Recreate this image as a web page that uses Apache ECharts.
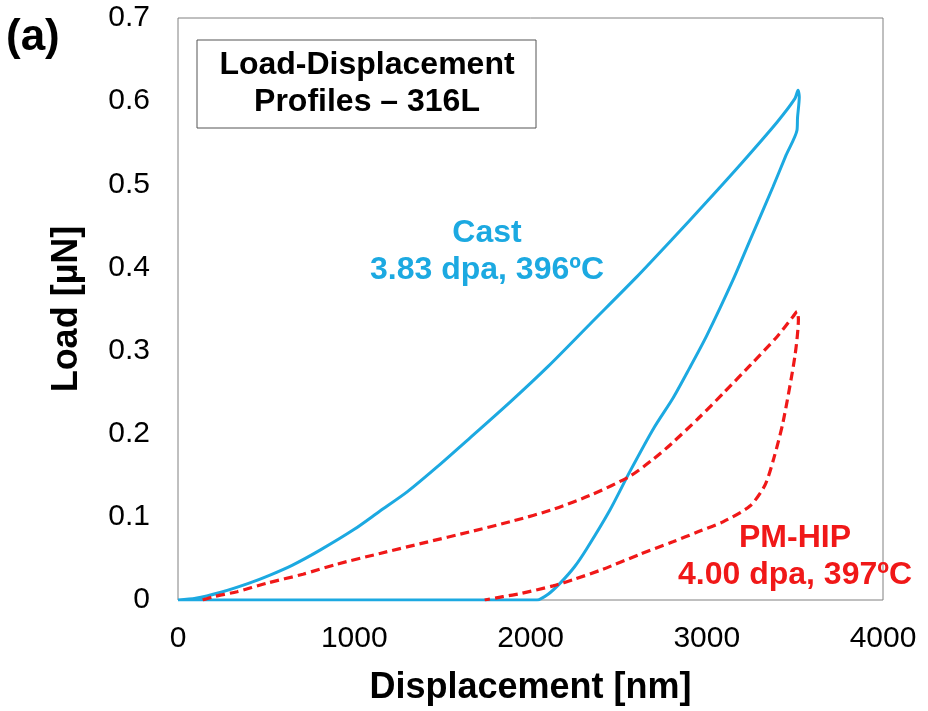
<!DOCTYPE html>
<html>
<head>
<meta charset="utf-8">
<title>Load-Displacement Profiles – 316L</title>
<script src="https://cdn.jsdelivr.net/npm/echarts@6/dist/echarts.min.js"></script>
<style>
  html, body { margin: 0; padding: 0; background: #fff; }
  #main { width: 928px; height: 711px; }
</style>
</head>
<body>
<div id="main"></div>
<script>
var dom = document.getElementById("main");
var myChart = echarts.init(dom);

// x ticks / y ticks
var xTicks = [0, 1000, 2000, 3000, 4000];
var yTicks = [0, 0.1, 0.2, 0.3, 0.4, 0.5, 0.6, 0.7];

// Cast, 3.83 dpa, 396ºC  [displacement nm, load µN] : loading then unloading
var castLoad = [
    [0, 0], [100, 0.002], [238, 0.009], [400, 0.02], [522, 0.03], [650, 0.042],
    [806, 0.06], [1000, 0.085], [1146, 0.107], [1300, 0.13], [1470, 0.16],
    [1657, 0.195], [1884, 0.238], [2100, 0.281], [2338, 0.332], [2600, 0.388],
    [2800, 0.433], [3000, 0.479], [3200, 0.526], [3400, 0.575], [3500, 0.603],
    [3518, 0.613]
];
var castUnload = [
    [3525, 0.605], [3515, 0.58], [3512, 0.565], [3450, 0.535], [3376, 0.497],
    [3250, 0.435], [3149, 0.385], [3000, 0.318], [2900, 0.278], [2809, 0.243],
    [2700, 0.207], [2565, 0.155], [2450, 0.108], [2320, 0.062], [2250, 0.04],
    [2167, 0.02], [2100, 0.007], [2037, 0], [1000, 0], [0, 0]
];

// PM-HIP, 4.00 dpa, 397ºC
var hipLoad = [
    [140, 0], [200, 0.004], [335, 0.01], [500, 0.02], [709, 0.031], [900, 0.043],
    [1146, 0.056], [1400, 0.069], [1657, 0.082], [1900, 0.095], [2128, 0.109],
    [2350, 0.127], [2565, 0.149], [2700, 0.17], [2800, 0.188], [2950, 0.218],
    [3100, 0.25], [3250, 0.283], [3400, 0.317], [3490, 0.341], [3512, 0.347]
];
var hipUnload = [
    [3520, 0.338], [3500, 0.293], [3433, 0.214], [3380, 0.17], [3330, 0.138],
    [3245, 0.113], [3092, 0.094], [2950, 0.082], [2808, 0.07], [2621, 0.055],
    [2411, 0.037], [2250, 0.025], [2128, 0.017], [1950, 0.008], [1844, 0.004],
    [1740, 0]
];

var blue = '#1CA9E1';
var red = '#F01818';
var font = 'Liberation Sans, Arial, sans-serif';

var option = {
    backgroundColor: '#fff',
    animation: false,
    grid: {
        left: 178, top: 18, right: 45, bottom: 110,
        show: true, borderColor: '#808080', borderWidth: 1
    },
    xAxis: {
        type: 'value',
        min: xTicks[0], max: xTicks[xTicks.length - 1], interval: 1000,
        name: 'Displacement [nm]',
        nameLocation: 'middle', nameGap: 70,
        nameTextStyle: { fontFamily: font, fontSize: 36, fontWeight: 'bold', color: '#000' },
        axisLine: { show: false },
        axisTick: { show: false },
        splitLine: { show: false },
        axisLabel: { fontFamily: font, fontSize: 30, color: '#000', margin: 24,
                     formatter: function (v) { return String(v); } }
    },
    yAxis: {
        type: 'value',
        min: yTicks[0], max: yTicks[yTicks.length - 1], interval: 0.1,
        name: 'Load [µN]',
        nameLocation: 'middle', nameGap: 93,
        nameTextStyle: { fontFamily: font, fontSize: 36, fontWeight: 'bold', color: '#000' },
        axisLine: { show: false },
        axisTick: { show: false },
        splitLine: { show: false },
        axisLabel: { fontFamily: font, fontSize: 30, color: '#000', margin: 28 }
    },
    series: [
        {
            name: 'Cast',
            type: 'line',
            data: castLoad.concat(castUnload),
            symbol: 'none',
            smooth: 0.25,
            lineStyle: { color: blue, width: 3 }
        },
        {
            name: 'PM-HIP',
            type: 'line',
            data: hipLoad.concat(hipUnload),
            symbol: 'none',
            smooth: 0.25,
            lineStyle: { color: red, width: 3.2, type: [9, 5] }
        }
    ],
    graphic: [
        { type: 'text', left: 6, top: 16,
          style: { text: '(a)', font: 'bold 44px ' + font, fill: '#000' } },
        { type: 'rect', shape: { x: 197, y: 40, width: 339, height: 88 },
          style: { fill: '#fff', stroke: '#555', lineWidth: 1 } },
        { type: 'text', x: 367, y: 84, z: 10,
          style: { text: 'Load-Displacement\nProfiles – 316L', font: 'bold 32px ' + font,
                   fill: '#000', align: 'center', verticalAlign: 'middle', lineHeight: 37 } },
        { type: 'text', x: 487, y: 252, z: 10,
          style: { text: 'Cast\n3.83 dpa, 396ºC', font: 'bold 32px ' + font,
                   fill: blue, align: 'center', verticalAlign: 'middle', lineHeight: 37 } },
        { type: 'text', x: 795, y: 557, z: 10,
          style: { text: 'PM-HIP\n4.00 dpa, 397ºC', font: 'bold 32px ' + font,
                   fill: red, align: 'center', verticalAlign: 'middle', lineHeight: 37 } }
    ]
};

if (option && typeof option === "object") {
    myChart.setOption(option, true);
}
</script>
</body>
</html>
